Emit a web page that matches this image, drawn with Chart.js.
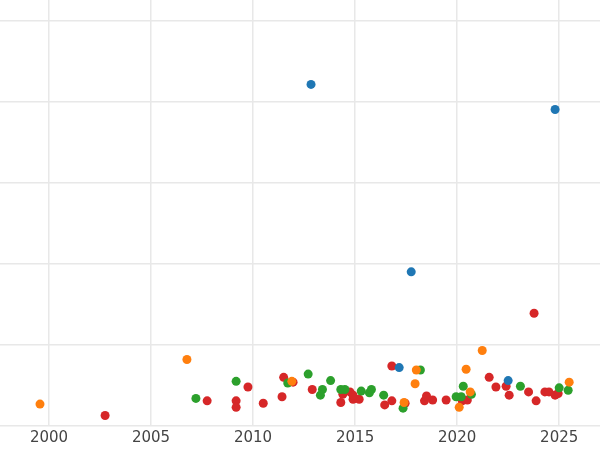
<!DOCTYPE html>
<html>
<head>
<meta charset="utf-8">
<script src="https://cdn.jsdelivr.net/npm/chart.js@4"></script>
<style>
  html, body { margin: 0; padding: 0; background: #fff; }
  #wrap { width: 600px; height: 450px; }
</style>
</head>
<body>
<div id="wrap"><canvas id="chart"></canvas></div>
<script>
// Valores: [año, valor]
const serieAzul = [[2012.84, 4.21], [2024.8, 3.9], [2017.75, 1.9], [2017.16, 0.72], [2022.5, 0.56]];
const serieNaranja = [[1999.56, 0.27], [2006.76, 0.82], [2021.23, 0.93], [2020.44, 0.7], [2018.0, 0.69],
  [2017.94, 0.52], [2025.49, 0.54], [2020.1, 0.23], [2020.64, 0.42], [2011.9, 0.55], [2017.4, 0.29]];
const serieVerde = [[2007.2, 0.34], [2009.17, 0.55], [2011.7, 0.53], [2012.7, 0.64], [2013.4, 0.45],
  [2013.3, 0.38], [2013.8, 0.56], [2014.3, 0.45], [2014.5, 0.45], [2015.3, 0.43], [2015.7, 0.41],
  [2015.8, 0.45], [2016.4, 0.38], [2017.35, 0.22], [2018.2, 0.69], [2019.95, 0.36], [2020.2, 0.36],
  [2020.3, 0.49], [2020.7, 0.39], [2023.1, 0.49], [2025.0, 0.47], [2025.44, 0.44]];
const serieRoja = [[2002.75, 0.13], [2007.75, 0.31], [2009.17, 0.31], [2009.17, 0.23], [2009.75, 0.48],
  [2010.5, 0.28], [2011.42, 0.36], [2011.5, 0.6], [2011.96, 0.54], [2012.9, 0.45], [2014.3, 0.29],
  [2014.4, 0.39], [2014.75, 0.42], [2014.9, 0.33], [2015.2, 0.33], [2014.9, 0.38], [2016.45, 0.26],
  [2016.8, 0.31], [2016.8, 0.74], [2017.45, 0.28], [2018.4, 0.31], [2018.5, 0.37], [2018.8, 0.32],
  [2019.46, 0.32], [2020.25, 0.31], [2020.5, 0.32], [2021.57, 0.6], [2021.9, 0.48], [2022.4, 0.49],
  [2022.55, 0.38], [2023.5, 0.42], [2023.87, 0.31], [2023.77, 1.39], [2024.3, 0.42], [2024.5, 0.42],
  [2024.8, 0.38], [2024.95, 0.4]];
const ticksX = [2000, 2005, 2010, 2015, 2020, 2025];
const ticksY = [0, 1, 2, 3, 4, 5];

const aPuntos = s => s.map(p => ({ x: p[0], y: p[1] }));
const serie = (datos, color) => ({ data: aPuntos(datos), backgroundColor: color, borderWidth: 0, pointRadius: 4.5, pointHoverRadius: 4.5 });

document.addEventListener("DOMContentLoaded", function() {
    new Chart(document.getElementById('chart').getContext('2d'), {
        type: 'scatter',
        data: { datasets: [serie(serieAzul, '#1f77b4'), serie(serieNaranja, '#ff7f0e'), serie(serieVerde, '#2ca02c'), serie(serieRoja, '#d62728')] },
        options: {
            responsive: true, maintainAspectRatio: false, animation: false,
            layout: { padding: 0, autoPadding: false },
            plugins: { legend: { display: false }, tooltip: { enabled: false } },
            scales: {
                x: { min: 1997.6, max: 2027.0, border: { display: false },
                     afterBuildTicks: a => { a.ticks = ticksX.map(v => ({ value: v })); },
                     grid: { color: '#e8e8e8', lineWidth: 1.5, drawTicks: false },
                     ticks: { color: '#444', font: { family: 'DejaVu Sans', size: 15 }, padding: 3, callback: v => String(v) } },
                y: { min: 0, max: 5.25, border: { display: false },
                     afterBuildTicks: a => { a.ticks = ticksY.map(v => ({ value: v })); },
                     grid: { color: '#e8e8e8', lineWidth: 1.5, drawTicks: false },
                     ticks: { display: false } }
            }
        }
    });
});
</script>
</body>
</html>
